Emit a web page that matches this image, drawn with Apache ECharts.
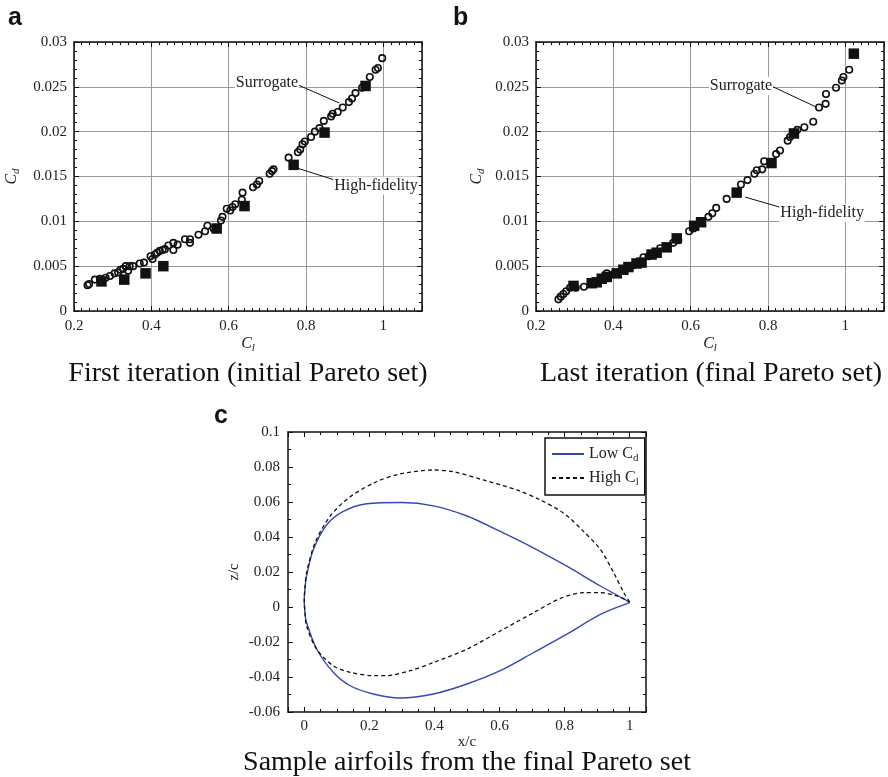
<!DOCTYPE html>
<html><head><meta charset="utf-8">
<script src="https://cdn.jsdelivr.net/npm/echarts@6/dist/echarts.min.js"></script>
<style>html,body{margin:0;padding:0;background:#fff}#c{width:888px;height:777px}</style>
</head><body><div id="c"></div>
<script>
// ---- Panel a: first iteration ----
const aSurrX = [0.235,0.239,0.254,0.267,0.282,0.293,0.305,0.314,0.320,0.327,0.334,0.340,0.344,0.353,0.370,0.381,0.398,0.403,0.409,0.415,0.422,0.429,0.435,0.444,0.457,0.457,0.468,0.487,0.500,0.500,0.522,0.539,0.545,0.561,0.580,0.584,0.595,0.604,0.610,0.617,0.634,0.636,0.663,0.673,0.679,0.706,0.712,0.716,0.755,0.779,0.785,0.791,0.797,0.813,0.823,0.835,0.846,0.865,0.869,0.882,0.895,0.911,0.919,0.928,0.945,0.965,0.980,0.986,0.997];
const aSurrY = [0.00287,0.0030,0.0035,0.0036,0.0037,0.0039,0.0042,0.0043,0.0046,0.0047,0.0050,0.0045,0.0050,0.0050,0.0053,0.0054,0.0061,0.0058,0.0063,0.0065,0.0067,0.0068,0.0069,0.0073,0.0076,0.0068,0.0074,0.0080,0.0080,0.0076,0.0085,0.0089,0.0095,0.0092,0.0101,0.0105,0.0114,0.0112,0.0116,0.0119,0.0124,0.0132,0.0138,0.0141,0.0145,0.0153,0.0156,0.0158,0.0171,0.0177,0.0180,0.0186,0.0189,0.0194,0.0200,0.0204,0.0212,0.0217,0.0220,0.0222,0.0227,0.0233,0.0237,0.0243,0.0249,0.0261,0.0269,0.0271,0.0282];
const aHiFiX = [0.271,0.330,0.385,0.431,0.569,0.641,0.768,0.848,0.954];
const aHiFiY = [0.0033,0.0035,0.0042,0.0050,0.0092,0.0117,0.0163,0.0199,0.0251];

// ---- Panel b: last iteration ----
const bSurrX = [0.258,0.264,0.271,0.278,0.288,0.303,0.324,0.347,0.383,0.400,0.422,0.452,0.478,0.491,0.521,0.555,0.568,0.596,0.607,0.646,0.656,0.666,0.693,0.730,0.747,0.765,0.771,0.785,0.790,0.821,0.831,0.851,0.857,0.876,0.894,0.917,0.932,0.949,0.950,0.976,0.991,0.995,1.010];
const bSurrY = [0.0013,0.0016,0.0019,0.0022,0.0026,0.0026,0.0027,0.0031,0.0042,0.0041,0.0045,0.0051,0.0060,0.0061,0.0070,0.0076,0.0079,0.0089,0.0092,0.0105,0.0109,0.0115,0.0125,0.0141,0.0146,0.0153,0.0157,0.0158,0.0167,0.0175,0.0179,0.0190,0.0194,0.0202,0.0205,0.0211,0.0227,0.0231,0.0242,0.0249,0.0257,0.0261,0.0269];
const bHiFiX = [0.297,0.344,0.357,0.370,0.383,0.409,0.426,0.439,0.460,0.473,0.499,0.512,0.538,0.564,0.609,0.627,0.719,0.809,0.867,1.022];
const bHiFiY = [0.0028,0.0031,0.0032,0.0036,0.0038,0.0042,0.0046,0.0049,0.0053,0.0054,0.0063,0.0065,0.0071,0.0081,0.0095,0.0099,0.0132,0.0165,0.0198,0.0287];

// ---- Panel c: airfoils ----
const lowUpperX = [0,0.002,0.007,0.028,0.069,0.12,0.192,0.30,0.397,0.5,0.602,0.705,0.807,0.91,1.0];
const lowUpperY = [0.004,0.010,0.0176,0.0328,0.047,0.0546,0.059,0.0597,0.0578,0.052,0.0432,0.0337,0.0233,0.012,0.0028];
const lowLowerX = [0,0.002,0.007,0.038,0.089,0.141,0.212,0.294,0.397,0.5,0.602,0.705,0.807,0.91,1.0];
const lowLowerY = [0.004,-0.003,-0.0089,-0.024,-0.0373,-0.045,-0.0497,-0.052,-0.0497,-0.044,-0.0364,-0.026,-0.0155,-0.0042,0.0025];
const highUpperX = [0,0.002,0.007,0.033,0.079,0.141,0.223,0.294,0.397,0.458,0.55,0.653,0.725,0.797,0.858,0.91,0.951,0.982,1.0];
const highUpperY = [0.004,0.011,0.0195,0.0366,0.0518,0.063,0.0717,0.076,0.0783,0.0773,0.0726,0.0669,0.0612,0.0536,0.0432,0.0328,0.0195,0.0082,0.0028];
const highLowerX = [0,0.002,0.007,0.038,0.089,0.141,0.212,0.253,0.325,0.397,0.5,0.602,0.705,0.787,0.858,0.91,0.961,1.0];
const highLowerY = [0.004,-0.003,-0.0108,-0.024,-0.0336,-0.0373,-0.0392,-0.0392,-0.0364,-0.0317,-0.0241,-0.0137,-0.0032,0.0049,0.0082,0.0082,0.0063,0.0028];

// ---- Annotation anchor points (data units) ----
const aSurrLabel = [0.699, 0.0254], aSurrArrow = [[0.780, 0.0252], [0.886, 0.0232]];
const aHiFiLabel = [0.981, 0.0140], aHiFiArrow = [[0.875, 0.0146], [0.780, 0.0159]];
const bSurrLabel = [0.730, 0.0251], bSurrArrow = [[0.813, 0.0250], [0.922, 0.0228]];
const bHiFiLabel = [0.940, 0.0109], bHiFiArrow = [[0.837, 0.0115], [0.741, 0.0127]];

const xTicksAB = {min: 0.2, max: 1.1, interval: 0.2};
const yTicksAB = {min: 0, max: 0.03, interval: 0.005};
const yTicksC = {min: -0.06, max: 0.1, interval: 0.02};
const xRangeC = {min: -0.05, max: 1.05};

const SERIF = "'Liberation Serif','Times New Roman',serif";
const zip = (xs, ys) => xs.map((x, i) => [x, ys[i]]);
const airfoil = (ux, uy, lx, ly) => zip(ux, uy).reverse().concat(zip(lx, ly).slice(1));

function axis(gridIndex, pos, rng, opt) {
  opt = opt || {};
  const show = !!opt.labels;
  return Object.assign({
    type: 'value', gridIndex, position: pos,
    min: rng.min, max: rng.max,
    axisLine: {show: true, onZero: false, lineStyle: {color: '#111', width: 1.5}},
    axisTick: {show: true, inside: true, length: 5, lineStyle: {color: '#111', width: 1}},
    minorTick: {show: true, splitNumber: opt.minor || 5, length: 3, lineStyle: {color: '#111', width: 1}},
    splitLine: {show: !!opt.grid && show, lineStyle: {color: '#9a9a9a', width: 1}},
    minorSplitLine: {show: false},
    axisLabel: {show: show, color: '#222', fontFamily: SERIF, fontSize: 15, margin: opt.margin || 8,
      showMaxLabel: opt.showMax !== false, showMinLabel: opt.showMin !== false},
    splitNumber: opt.split || 5
  }, rng.interval ? {interval: rng.interval} : {}, opt.extra || {});
}

const subRich = {
  c: {fontFamily: SERIF, fontStyle: 'italic', fontSize: 16, lineHeight: 20, color: '#222'},
  s: {fontFamily: SERIF, fontStyle: 'italic', fontSize: 11, lineHeight: 9, verticalAlign: 'bottom', color: '#222'}
};

const xName = {name: '{c|C}{s|l}', nameLocation: 'middle', nameGap: 23, nameTextStyle: {rich: subRich}};
const yName = (gap) => ({name: '{c|C}{s|d}', nameLocation: 'middle', nameRotate: 90, nameGap: gap, nameTextStyle: {rich: subRich}});

function annot(label, arrow, text) {
  return {
    markLine: {
      silent: true, animation: false, symbol: ['none', 'arrow'], symbolSize: [0, 9],
      lineStyle: {color: '#111', width: 1, type: 'solid'}, label: {show: false},
      data: [[{coord: arrow[0]}, {coord: arrow[1]}]]
    },
    markPoint: {
      silent: true, animation: false, symbol: 'rect', symbolSize: 1,
      itemStyle: {color: 'rgba(0,0,0,0)'},
      label: {show: true, position: 'inside', formatter: '{b}', color: '#222', fontFamily: SERIF, fontSize: 16,
        backgroundColor: '#fff', padding: [1, 1]},
      data: [{coord: label, name: text}]
    }
  };
}

const circleStyle = {symbol: 'circle', symbolSize: 6.5, itemStyle: {color: 'rgba(255,255,255,0)', borderColor: '#111', borderWidth: 1.6, opacity: 1}};
const squareStyle = {symbol: 'rect', symbolSize: 10.5, itemStyle: {color: '#111', opacity: 1}};

const chart = echarts.init(document.getElementById('c'), null, {renderer: 'canvas'});
chart.setOption({
  animation: false,
  backgroundColor: '#fff',
  grid: [
    {left: 74, top: 42, width: 348, height: 269, outerBoundsMode: 'none', containLabel: false},
    {left: 536, top: 42, width: 348, height: 269, outerBoundsMode: 'none', containLabel: false},
    {left: 288, top: 432, width: 358, height: 280, outerBoundsMode: 'none', containLabel: false}
  ],
  xAxis: [
    axis(0, 'bottom', xTicksAB, {labels: true, grid: true, minor: 10, showMax: false, extra: xName}),
    axis(0, 'top', xTicksAB, {minor: 10}),
    axis(1, 'bottom', xTicksAB, {labels: true, grid: true, minor: 10, showMax: false, extra: xName}),
    axis(1, 'top', xTicksAB, {minor: 10}),
    axis(2, 'bottom', xRangeC, {labels: true, minor: 4, showMax: false, showMin: false, margin: 7,
      extra: {name: 'x/c', nameLocation: 'middle', nameGap: 16, nameTextStyle: {fontFamily: SERIF, fontSize: 15, color: '#222'}}}),
    axis(2, 'top', xRangeC, {minor: 4})
  ],
  yAxis: [
    axis(0, 'left', yTicksAB, {labels: true, grid: true, minor: 5, margin: 7, extra: yName(52)}),
    axis(0, 'right', yTicksAB, {minor: 5}),
    axis(1, 'left', yTicksAB, {labels: true, grid: true, minor: 5, margin: 7, extra: yName(49)}),
    axis(1, 'right', yTicksAB, {minor: 5}),
    axis(2, 'left', yTicksC, {labels: true, minor: 2, margin: 8,
      extra: {name: 'z/c', nameLocation: 'middle', nameRotate: 90, nameGap: 46, nameTextStyle: {fontFamily: SERIF, fontSize: 15, color: '#222'}}}),
    axis(2, 'right', yTicksC, {minor: 2})
  ],
  legend: {
    data: ['Low Cd', 'High Cl'], orient: 'vertical', left: 545, top: 438,
    itemWidth: 32, itemHeight: 12, itemGap: 6, padding: [8, 6, 7, 6],
    borderColor: '#111', borderWidth: 1.5, backgroundColor: '#fff', borderRadius: 0,
    itemStyle: {color: 'rgba(0,0,0,0)', borderWidth: 0, opacity: 0},
    formatter: (n) => n === 'Low Cd' ? '{t|Low C}{s|d}' : '{t|High C}{s|l}',
    textStyle: {rich: {
      t: {fontFamily: SERIF, fontSize: 16, lineHeight: 20, color: '#222'},
      s: {fontFamily: SERIF, fontSize: 11, lineHeight: 9, verticalAlign: 'bottom', color: '#222'}
    }}
  },
  series: [
    Object.assign({type: 'scatter', name: 'Surrogate a', xAxisIndex: 0, yAxisIndex: 0, data: zip(aSurrX, aSurrY)}, circleStyle,
      annot(aSurrLabel, aSurrArrow, 'Surrogate')),
    Object.assign({type: 'scatter', name: 'High-fidelity a', xAxisIndex: 0, yAxisIndex: 0, data: zip(aHiFiX, aHiFiY)}, squareStyle,
      annot(aHiFiLabel, aHiFiArrow, 'High-fidelity')),
    Object.assign({type: 'scatter', name: 'Surrogate b', xAxisIndex: 2, yAxisIndex: 2, data: zip(bSurrX, bSurrY)}, circleStyle,
      annot(bSurrLabel, bSurrArrow, 'Surrogate')),
    Object.assign({type: 'scatter', name: 'High-fidelity b', xAxisIndex: 2, yAxisIndex: 2, data: zip(bHiFiX, bHiFiY)}, squareStyle,
      annot(bHiFiLabel, bHiFiArrow, 'High-fidelity')),
    {type: 'line', name: 'Low Cd', xAxisIndex: 4, yAxisIndex: 4, symbol: 'none', smooth: 0.3,
      lineStyle: {color: '#3448b4', width: 1.4, type: 'solid'}, itemStyle: {color: '#3448b4'},
      data: airfoil(lowUpperX, lowUpperY, lowLowerX, lowLowerY)},
    {type: 'line', name: 'High Cl', xAxisIndex: 4, yAxisIndex: 4, symbol: 'none', smooth: 0.3,
      lineStyle: {color: '#111', width: 1.3, type: [4, 3]}, itemStyle: {color: '#111'},
      data: airfoil(highUpperX, highUpperY, highLowerX, highLowerY)}
  ],
  graphic: [
    {type: 'text', left: 8, top: 6, style: {text: 'a', font: "bold 25px 'Liberation Sans', Arial, sans-serif", fill: '#111'}},
    {type: 'text', left: 453, top: 6, style: {text: 'b', font: "bold 25px 'Liberation Sans', Arial, sans-serif", fill: '#111'}},
    {type: 'text', left: 214, top: 404, style: {text: 'c', font: "bold 25px 'Liberation Sans', Arial, sans-serif", fill: '#111'}},
    {type: 'text', x: 248, y: 374, style: {text: 'First iteration (initial Pareto set)', font: "28px 'Liberation Serif', serif", fill: '#111', textAlign: 'center', textVerticalAlign: 'middle'}},
    {type: 'text', x: 711, y: 374, style: {text: 'Last iteration (final Pareto set)', font: "28px 'Liberation Serif', serif", fill: '#111', textAlign: 'center', textVerticalAlign: 'middle'}},
    {type: 'text', x: 467, y: 763, style: {text: 'Sample airfoils from the final Pareto set', font: "28px 'Liberation Serif', serif", fill: '#111', textAlign: 'center', textVerticalAlign: 'middle'}}
  ]
});
</script>
</body></html>
